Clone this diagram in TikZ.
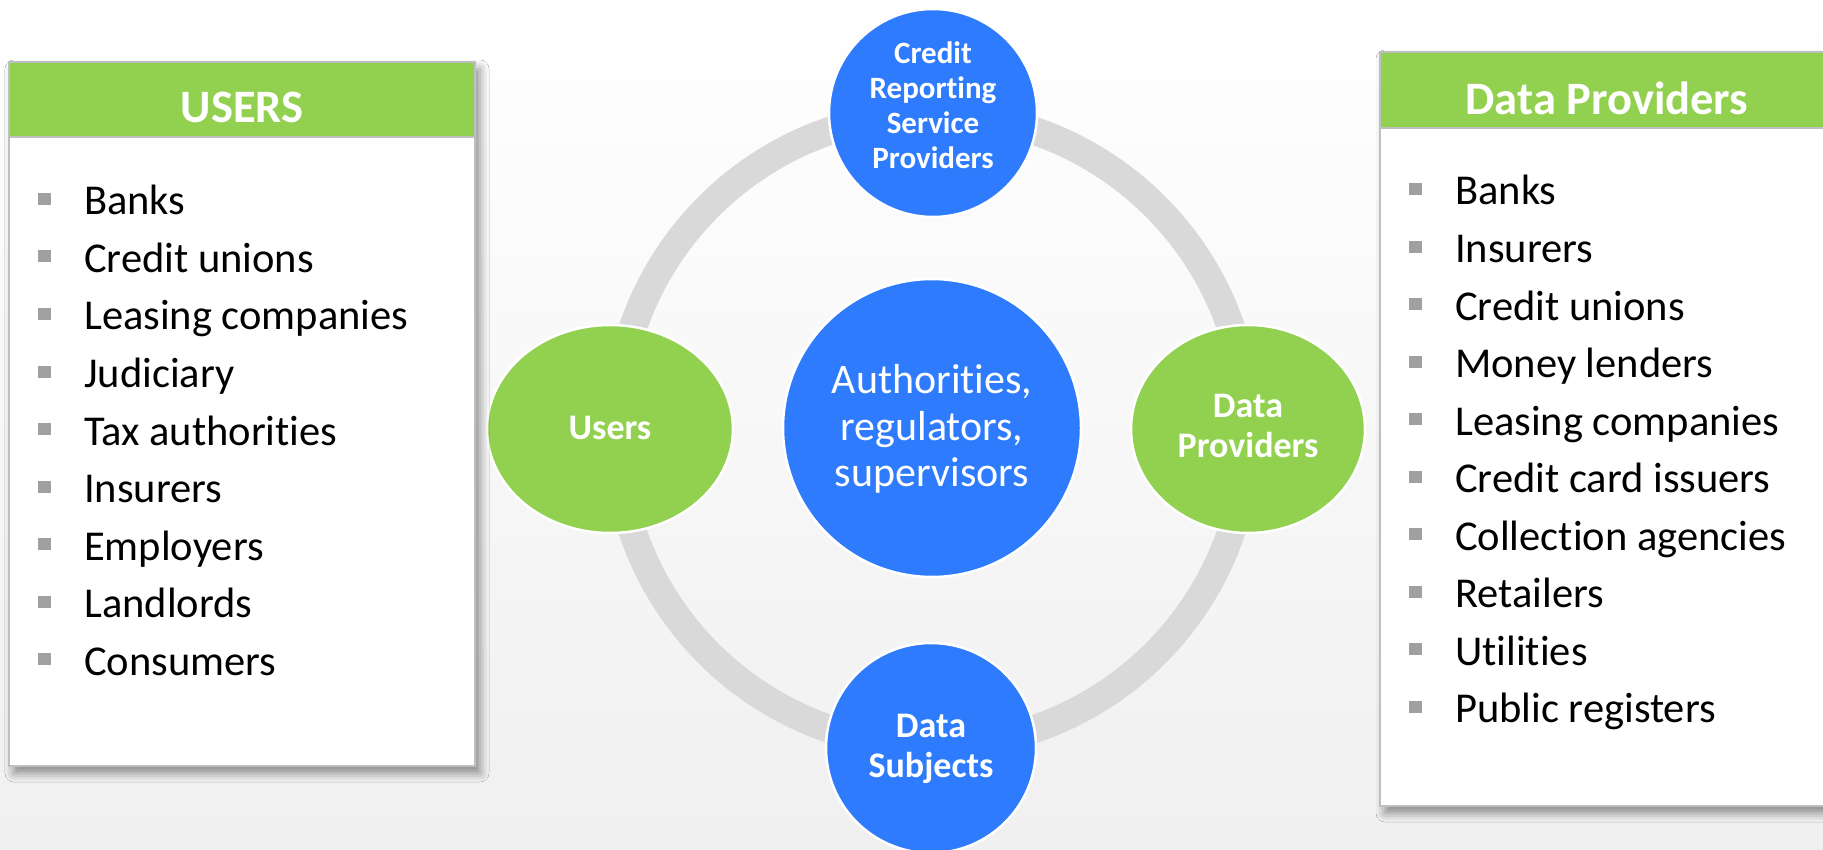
\documentclass[tikz,border=0pt]{standalone}
\usepackage{fontspec}
\setmainfont{Carlito}[Ligatures={NoCommon,NoContextual}, Contextuals=NoAlternate]
\usetikzlibrary{shadows.blur,shapes.geometric}
\definecolor{bluec}{HTML}{2E7CFD}
\definecolor{greenc}{HTML}{92D050}
\definecolor{ringc}{HTML}{D9D9D9}
\definecolor{bulc}{HTML}{A0A0A0}
\definecolor{boxline}{HTML}{BFBFBF}
\definecolor{bgbot}{HTML}{F0F0F0}
\newcommand{\bulitem}[1]{\makebox[46pt][l]{\textcolor{bulc}{\rule[10pt]{13pt}{12pt}}}#1}
\newcommand{\tisep}{t\kern0pt i}
\begin{document}
\begin{tikzpicture}[x=1pt,y=-1pt,
  bluecirc/.style={circle, fill=bluec, draw=white, line width=2.5pt, inner sep=0pt},
  greenell/.style={ellipse, fill=greenc, draw=white, line width=2.5pt, inner sep=0pt},
  ctext/.style={text=white, font=\bfseries\fontsize{36}{40}\selectfont, align=center, inner sep=0pt},
  listbox/.style={fill=white, draw=boxline, line width=1.5pt,
    blur shadow={shadow xshift=5pt, shadow yshift=-7pt, shadow blur radius=9pt, shadow opacity=45}},
  headbox/.style={fill=greenc, draw=boxline, line width=1.5pt},
  headtext/.style={text=white, font=\bfseries\fontsize{46.5}{50}\selectfont, inner sep=0pt, anchor=base},
  itemtext/.style={text=black, font=\fontsize{42.5}{48}\selectfont, inner sep=0pt, anchor=base west}
]
\useasboundingbox (0,0) rectangle (1823,850);
\clip (0,0) rectangle (1823,850);
\fill[top color=white, bottom color=bgbot] (0,0) rectangle (1823,850);

% ring and circles
\coordinate (ringc) at (932,430);
\draw[ringc, line width=28pt] (ringc) circle[radius=316pt];
\node[bluecirc, minimum size=298pt] (auth) at (932,428) {};
\node[bluecirc, minimum size=208pt] (crsp) at (933,113) {};
\node[bluecirc, minimum size=210pt] (ds) at (931,748) {};
\node[greenell, minimum width=246pt, minimum height=208pt] (users) at (610,429) {};
\node[greenell, minimum width=234pt, minimum height=208pt] (dp) at (1248,429) {};

\node[text=white, font=\fontsize{42}{46.5}\selectfont, align=center, inner sep=0pt] (autht) at (932,429) {Authori\tisep es,\\regulators,\\supervisors};
\node[ctext, font=\bfseries\fontsize{31}{35}\selectfont] (crspt) at (933,105) {Credit\\Reporting\\Service\\Providers};
\node[ctext] (dst) at (931,749) {Data\\Subjects};
\node[ctext] (dpt) at (1248,426) {Data\\Providers};
\node[ctext] (userst) at (610,428) {Users};

% left list box
\fill[listbox] (9,62) rectangle (475,766);
\draw[headbox] (9,62) rectangle (475,137);
\node[headtext] (lhead) at (242,123) {USERS};
\foreach \t [count=\i] in {Banks, Credit unions, Leasing companies, Judiciary, Tax authori\tisep es, Insurers, Employers, Landlords, Consumers}
  \node[itemtext] (u\i) at (38,{215+57.5*(\i-1)}) {\bulitem{\t}};

% right list box
\fill[listbox] (1380,52) rectangle (1836,806);
\draw[headbox] (1380,52) rectangle (1836,128);
\node[headtext] (rhead) at (1607,115) {Data Providers};
\foreach \t [count=\i] in {Banks, Insurers, Credit unions, Money lenders, Leasing companies, Credit card issuers, Collec\tisep on agencies, Retailers, Utili\tisep es, Public registers}
  \node[itemtext] (p\i) at (1409,{205+57.55*(\i-1)}) {\bulitem{\t}};
\end{tikzpicture}
\end{document}
